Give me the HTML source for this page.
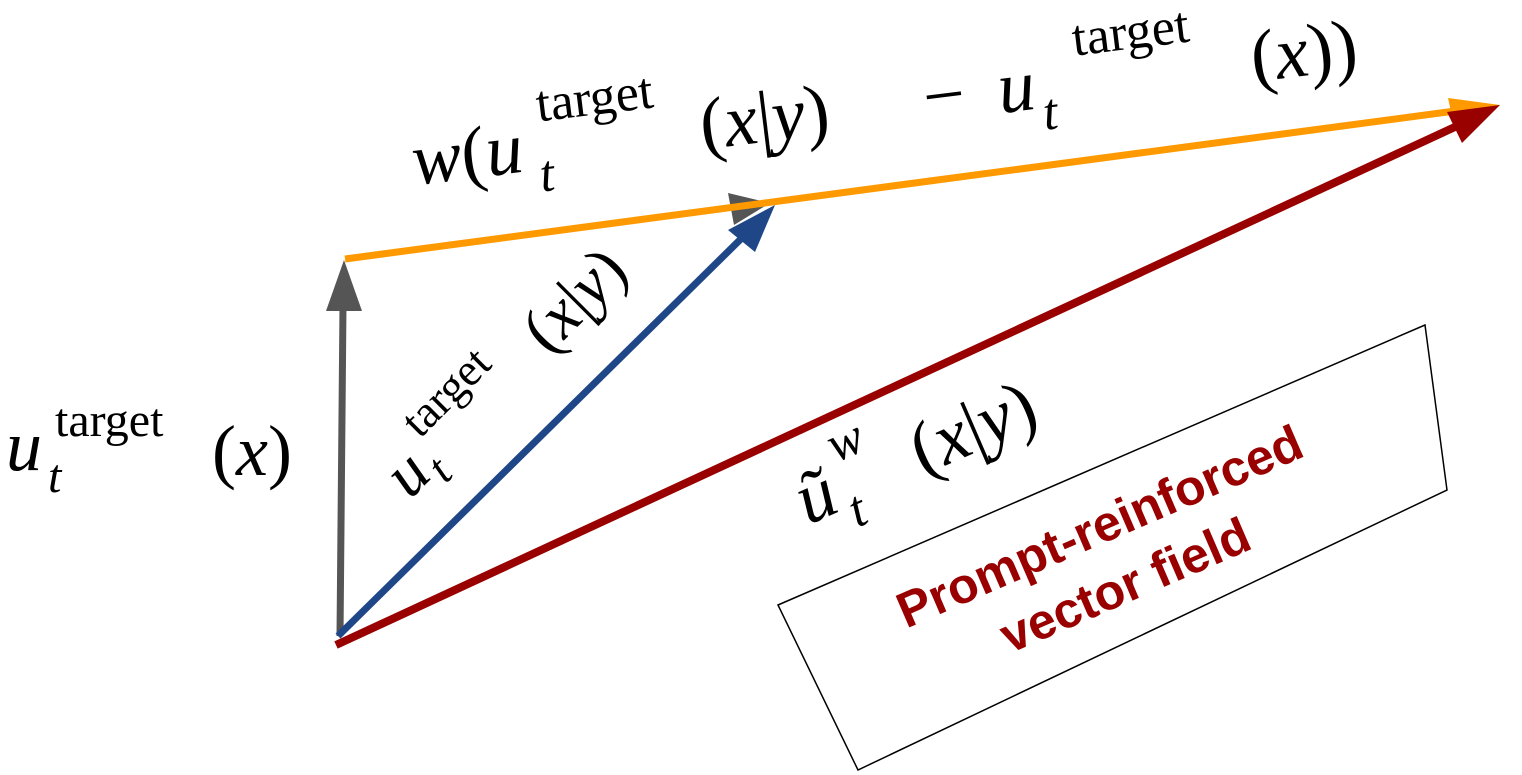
<!DOCTYPE html>
<html><head><style>body{margin:0;background:#fff}svg{display:block}</style></head>
<body>
<svg width="1522" height="775" viewBox="0 0 1522 775" xmlns="http://www.w3.org/2000/svg" font-family="Liberation Serif, serif">
<polygon points="778,605 1425,325 1447,490 858,770" fill="none" stroke="#000" stroke-width="1.5"/>
<g transform="translate(1112,555) rotate(-23.4)" fill="#990000" font-family="Liberation Sans, sans-serif" font-weight="bold" font-size="50" text-anchor="middle">
<text x="0" y="-14">Prompt-reinforced</text>
<text x="0" y="50">vector field</text>
</g>
<polygon points="770,203 728,193 734,225" fill="#555"/>
<line x1="345" y1="259" x2="1470" y2="109" stroke="#f90" stroke-width="7"/>
<polygon points="1500,105 1448,98 1455,130" fill="#f90"/>
<line x1="340" y1="636" x2="343" y2="305" stroke="#555" stroke-width="7"/>
<polygon points="344,260 326,311 362,311" fill="#555"/>
<line x1="338" y1="636" x2="752" y2="228" stroke="#1f4788" stroke-width="7"/>
<polygon points="775,205 728,230 755,252" fill="#1f4788"/>
<line x1="336" y1="645" x2="1470" y2="120" stroke="#990000" stroke-width="8"/>
<polygon points="1500,105 1447,112 1462,143" fill="#990000"/>
<g font-size="72">
<text x="6" y="470" font-style="italic">u</text>
<text x="48" y="492" font-style="italic" font-size="48">t</text>
<text x="55" y="436" font-size="48">target</text>
<text x="212" y="475">(<tspan font-style="italic">x</tspan>)</text>
</g>
<g transform="translate(410,500) rotate(-45)" font-size="66">
<text x="0" y="0" font-style="italic">u</text>
<text x="36" y="14" font-style="italic" font-size="46">t</text>
<text x="50" y="-36" font-size="46">target</text>
<text x="200" y="-4">(<tspan font-style="italic">x</tspan>|<tspan font-style="italic">y</tspan>)</text>
</g>
<g transform="translate(415,185) rotate(-7)" font-size="74">
<text x="0" y="0"><tspan font-style="italic">w</tspan>(<tspan font-style="italic">u</tspan></text>
<text x="125" y="22" font-style="italic" font-size="52">t</text>
<text x="130" y="-48" font-size="52">target</text>
<text x="290" y="0">(<tspan font-style="italic">x</tspan>|<tspan font-style="italic">y</tspan>)</text>
<text x="515" y="0">−</text>
<text x="590" y="0" font-style="italic">u</text>
<text x="632" y="22" font-style="italic" font-size="52">t</text>
<text x="670" y="-48" font-size="52">target</text>
<text x="845" y="0">(<tspan font-style="italic">x</tspan>))</text>
</g>
<g transform="translate(808,525) rotate(-23.4)" font-size="74">
<text x="0" y="0" font-style="italic">ũ</text>
<text x="44" y="22" font-style="italic" font-size="52">t</text>
<text x="50" y="-46" font-style="italic" font-size="52">w</text>
<text x="125" y="0">(<tspan font-style="italic">x</tspan>|<tspan font-style="italic">y</tspan>)</text>
</g>
</svg>
</body></html>
